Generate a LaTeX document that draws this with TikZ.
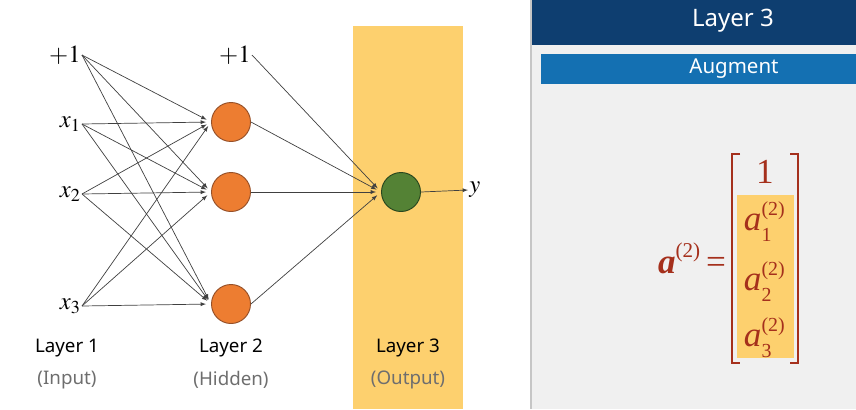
\documentclass[tikz,border=0pt]{standalone}
\usepackage{mathptmx}
\usepackage[no-math]{fontspec}
\setmainfont{Liberation Serif}
\newfontfamily\labfont{Noto Sans}
\usetikzlibrary{arrows}
\definecolor{band}{RGB}{253,208,110}
\definecolor{hidfill}{RGB}{237,125,49}
\definecolor{hiddraw}{RGB}{150,80,40}
\definecolor{outfill}{RGB}{84,130,53}
\definecolor{outdraw}{RGB}{40,70,30}
\definecolor{wire}{RGB}{64,64,64}
\definecolor{panel}{RGB}{240,240,240}
\definecolor{topbar}{RGB}{14,62,112}
\definecolor{augbar}{RGB}{20,112,178}
\definecolor{mred}{RGB}{165,48,28}
\definecolor{subgray}{RGB}{110,110,110}
\newcommand{\aentry}[1]{{\itshape a}\rlap{\raisebox{0.42em}{\fontsize{17}{17}\selectfont(2)}}\raisebox{-0.32em}{\fontsize{17}{17}\selectfont #1}\hphantom{\fontsize{17}{17}\selectfont (2}}
\tikzset{
  neuron/.style={circle,minimum size=39*0.03cm,inner sep=0pt,line width=0.8pt},
  inlab/.style={anchor=east,inner sep=1pt,font=\fontsize{21}{22}\selectfont},
  layerlab/.style={align=center,font=\labfont\fontsize{16}{28}\selectfont},
  wired/.style={->,draw=wire,line width=0.6pt,shorten >=5*0.03cm}
}
\begin{document}
\begin{tikzpicture}[>=latex,x=0.03cm,y=-0.03cm]
\useasboundingbox (0,0) rectangle (856,409);
% output band
\fill[band] (353,26) rectangle (463,409);
% right panel
\fill[panel] (532,0) rectangle (856,409);
\draw[gray!45,line width=1.2pt] (531,0) -- (531,409);
\fill[topbar] (532,0) rectangle (856,45);
\fill[augbar] (541,54) rectangle (856,84);
\node[text=white,font=\labfont\fontsize{20.5}{21}\selectfont] (head) at (733,21) {Layer 3};
\node[text=white,font=\labfont\fontsize{17.5}{18}\selectfont] (aug) at (734,69) {Augment};

% input layer
\node[inlab] (b1) at (82,55) {$+1$};
\node[inlab] (x1) at (82,124) {$x_1$};
\node[inlab] (x2) at (82,194) {$x_2$};
\node[inlab] (x3) at (82,306) {$x_3$};
% hidden layer
\node[neuron,fill=hidfill,draw=hiddraw] (h1) at (231,122) {};
\node[neuron,fill=hidfill,draw=hiddraw] (h2) at (231,192) {};
\node[neuron,fill=hidfill,draw=hiddraw] (h3) at (231,304) {};
\node[inlab] (b2) at (252,55) {$+1$};
% output
\node[neuron,fill=outfill,draw=outdraw] (o) at (401,192) {};
\node[anchor=west,inner sep=1pt,font=\fontsize{21}{22}\selectfont] (y) at (468,190) {$y$};

\foreach \i in {b1,x1,x2,x3}
  \foreach \j in {h1,h2,h3}
    \draw[wired] (\i.east) -- (\j.west);
\foreach \j in {b2,h1,h2,h3}
  \draw[wired] (\j.east) -- (o.west);
\draw[->,draw=wire,line width=0.6pt] (o.east) -- (y.west);

\node[layerlab] (l1) at (67,364) {Layer 1\\\textcolor{subgray}{(Input)}};
\node[layerlab] (l2) at (231,364) {Layer 2\\\textcolor{subgray}{(Hidden)}};
\node[layerlab] (l3) at (408,364) {Layer 3\\\textcolor{subgray}{(Output)}};

% augmented vector
\fill[band] (737,195) rectangle (794,358);
\draw[mred,line width=1.3pt] (740,154) -- (732,154) -- (732,363) -- (740,363);
\draw[mred,line width=1.3pt] (790,154) -- (798,154) -- (798,363) -- (790,363);
\begin{scope}[every node/.style={text=mred,font=\fontsize{30}{30}\selectfont}]
\node (e0) at (765,172) {1};
\node (e1) at (766,222) {\aentry{1}};
\node (e2) at (766,282) {\aentry{2}};
\node (e3) at (766,338) {\aentry{3}};
\node[anchor=east] (lhs) at (730,258) {{\bfseries\itshape a}\raisebox{0.45em}{\fontsize{18}{18}\selectfont(2)}\,=};
\end{scope}
\end{tikzpicture}
\end{document}
